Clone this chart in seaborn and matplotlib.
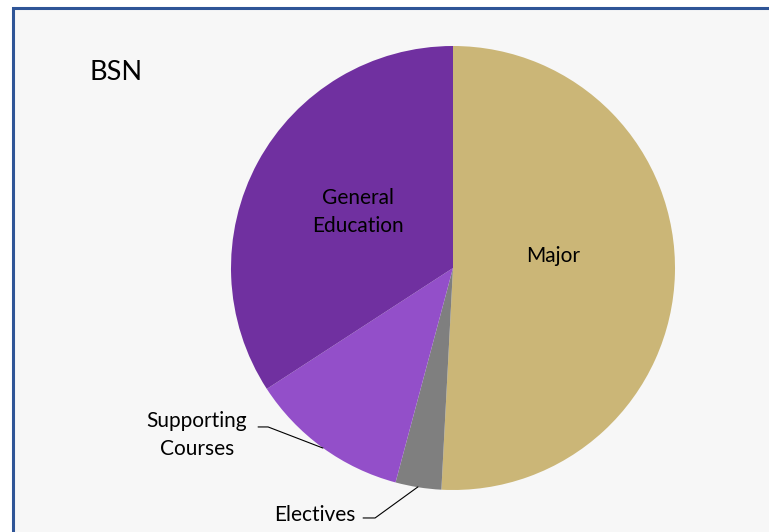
import matplotlib
matplotlib.use("Agg")
import matplotlib.pyplot as plt
import seaborn as sns
from matplotlib.patches import Rectangle

# BSN credit distribution
segments = ["Major", "Electives", "Supporting Courses", "General Education"]
credits = [61, 4, 14, 41]
colors = ["#CBB677", "#7F7F7F", "#934FC9", "#7030A0"]

sns.set_style("white")
plt.rcParams['font.family'] = ['Lato', 'DejaVu Sans']
plt.rcParams['text.color'] = 'black'

fig = plt.figure(figsize=(7.69, 5.32), dpi=100)
fig.patch.set_facecolor("white")

# background axes holding the chart frame (runs off the right and bottom edge)
bg = fig.add_axes([0, 0, 1, 1], zorder=0)
bg.set_xlim(0, 769)
bg.set_ylim(532, 0)
bg.axis("off")
bg.add_patch(Rectangle((13, 8), 800, 560, facecolor="#F7F7F7",
                       edgecolor="#2F5597", linewidth=2.2))

ax = fig.add_axes([231 / 769, 42 / 532, 444 / 769, 444 / 532], zorder=1)
ax.pie(credits, colors=colors, startangle=90, counterclock=False, radius=1,
       wedgeprops=dict(linewidth=0))
ax.set_xlim(-1, 1)
ax.set_ylim(-1, 1)
ax.set_aspect("equal")
ax.axis("off")

txt = dict(fontsize=15, color="black", ha="center", va="center")
ax.text(0.45, 0.054, "Major", **txt)
ax.text(-0.428, 0.252, "General\nEducation", linespacing=1.45, **txt)
ax.text(-1.153, -0.752, "Supporting\nCourses", linespacing=1.45, clip_on=False, **txt)
ax.text(-0.622, -1.113, "Electives", clip_on=False, **txt)

# leader lines
ax.plot([-0.878, -0.833, -0.586], [-0.716, -0.716, -0.811], color="black",
        linewidth=0.8, clip_on=False)
ax.plot([-0.405, -0.351, -0.158], [-1.126, -1.126, -0.986], color="black",
        linewidth=0.8, clip_on=False)

bg.text(116, 72, "BSN", fontsize=19.5, color="black", ha="center", va="center")

plt.savefig("out.png", dpi=100)
plt.close()
